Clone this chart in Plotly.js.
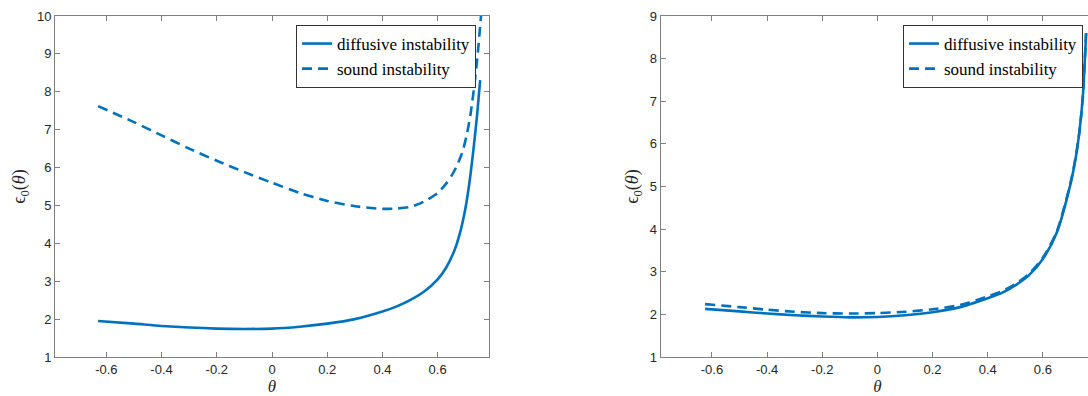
<!DOCTYPE html>
<html>
<head>
<meta charset="utf-8">
<script src="https://cdn.plot.ly/plotly-3.0.1.min.js"></script>
<style>
html,body{margin:0;padding:0;overflow:hidden;background:#fff;}
#chart{width:1100px;height:396px;}
</style>
</head>
<body>
<div id="chart"></div>
<script>
// Left panel
const thetaL = [-0.63,-0.5,-0.4,-0.3,-0.2,-0.1,0,0.1,0.2,0.3,0.4,0.45,0.5,0.55,0.6,0.63,0.66,0.68,0.70,0.715,0.73,0.743,0.754];
const diffL  = [1.95,1.88,1.82,1.78,1.75,1.74,1.75,1.80,1.88,2.0,2.2,2.33,2.5,2.72,3.05,3.35,3.8,4.25,4.9,5.6,6.5,7.4,8.31];
const thetaSL = [-0.63,-0.5,-0.4,-0.3,-0.2,-0.1,0,0.1,0.2,0.3,0.4,0.45,0.5,0.55,0.6,0.63,0.65,0.67,0.69,0.705,0.72,0.735,0.747,0.757];
const soundL = [7.62,7.2,6.85,6.5,6.18,5.88,5.6,5.33,5.12,4.98,4.91,4.92,4.96,5.1,5.33,5.57,5.78,6.05,6.42,6.85,7.45,8.3,9.15,10.0];
// Right panel
const thetaR = [-0.625,-0.5,-0.4,-0.3,-0.2,-0.1,0,0.1,0.2,0.3,0.4,0.45,0.5,0.55,0.6,0.65,0.7,0.72,0.733,0.745,0.757];
const diffR  = [2.13,2.07,2.02,1.98,1.95,1.93,1.94,1.98,2.05,2.17,2.38,2.5,2.68,2.92,3.3,3.91,5.05,5.7,6.3,7.1,8.6];
const soundR = [2.24,2.17,2.11,2.06,2.03,2.02,2.03,2.06,2.12,2.22,2.42,2.54,2.71,2.95,3.33,3.93,5.07,5.72,6.3,7.1,8.6];
const xTicks = [-0.6,-0.4,-0.2,0,0.2,0.4,0.6];
const xTickText = ['-0.6','-0.4','-0.2','0','0.2','0.4','0.6'];
const yTicksL = [1,2,3,4,5,6,7,8,9,10];
const yTicksR = [1,2,3,4,5,6,7,8,9];
const names = ['diffusive instability','sound instability'];

const blue = '#0072BD';
const W = 1100, H = 396;
const lw = 2.6;
const dashStyle = '10px,6px';
const sm = 0.7;

const traces = [
  {x: thetaL, y: diffL, name: names[0], mode:'lines', line:{color:blue,width:lw,shape:'spline',smoothing:sm}, xaxis:'x', yaxis:'y', legend:'legend'},
  {x: thetaSL, y: soundL, name: names[1], mode:'lines', line:{color:blue,width:lw,dash:dashStyle,shape:'spline',smoothing:sm}, xaxis:'x', yaxis:'y', legend:'legend'},
  {x: thetaR, y: diffR, name: names[0], mode:'lines', line:{color:blue,width:lw,shape:'spline',smoothing:sm}, xaxis:'x2', yaxis:'y2', legend:'legend2'},
  {x: thetaR, y: soundR, name: names[1], mode:'lines', line:{color:blue,width:lw,dash:dashStyle,shape:'spline',smoothing:sm}, xaxis:'x2', yaxis:'y2', legend:'legend2'}
];

const tickFont = {family:'Liberation Sans, Arial, sans-serif', size:13, color:'#262626'};
const axCommon = {
  showline:true, linecolor:'#7f7f7f', linewidth:1, mirror:'ticks',
  ticks:'inside', ticklen:5, tickcolor:'#7f7f7f', tickwidth:1,
  showgrid:false, zeroline:false, tickfont:tickFont, automargin:false
};
const serif = 'Liberation Serif, Times New Roman, serif';
const xTitle = {text:'<i>θ</i>', font:{family:serif, size:17, color:'#262626'}, standoff:4};
const yTitle = {text:'ϵ<sub>0</sub>(<i>θ</i>)', font:{family:serif, size:18, color:'#262626'}, standoff:6};

const yTop = 1 - 16/H, yBot = 1 - 357/H;
const legendCommon = {xanchor:'left', yanchor:'top', bgcolor:'#fff', bordercolor:'#333', borderwidth:1,
           font:{family:serif, size:17, color:'#000'}, tracegroupgap:0, itemwidth:30};
const layout = {
  width: W, height: H,
  margin:{l:0,r:0,t:0,b:0},
  paper_bgcolor:'#fff', plot_bgcolor:'#fff',
  showlegend:true,
  xaxis: Object.assign({}, axCommon, {domain:[55/W, 489/W], range:[-0.786,0.786], tickvals:xTicks, ticktext:xTickText, title:xTitle, anchor:'y'}),
  yaxis: Object.assign({}, axCommon, {domain:[yBot, yTop], range:[1,10], tickvals:yTicksL, title:yTitle, anchor:'x'}),
  xaxis2: Object.assign({}, axCommon, {domain:[660.7/W, 1094.1/W], range:[-0.786,0.786], tickvals:xTicks, ticktext:xTickText, title:xTitle, anchor:'y2'}),
  yaxis2: Object.assign({}, axCommon, {domain:[yBot, yTop], range:[1,9], tickvals:yTicksR, title:yTitle, anchor:'x2'}),
  legend: Object.assign({}, legendCommon, {x:296/W, y:1-25/H}),
  legend2: Object.assign({}, legendCommon, {x:903/W, y:1-25/H})
};

Plotly.newPlot('chart', traces, layout, {displayModeBar:false, staticPlot:true});
</script>
</body>
</html>
